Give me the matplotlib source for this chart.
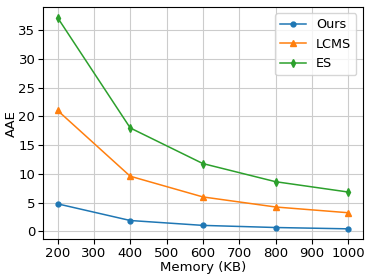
import matplotlib
matplotlib.use("Agg")
import matplotlib.pyplot as plt

memory = [200, 400, 600, 800, 1000]
ours = [4.8, 1.9, 1.05, 0.68, 0.45]
lcms = [21.05, 9.6, 6.0, 4.25, 3.25]
es = [37.2, 18.0, 11.8, 8.65, 6.85]
xticks = [200, 300, 400, 500, 600, 700, 800, 900, 1000]
yticks = [0, 5, 10, 15, 20, 25, 30, 35]

fs = 9.5
plt.rcParams['font.size'] = fs
fig, ax = plt.subplots(figsize=(3.74, 2.8), dpi=100)
ax.plot(memory, ours, marker='o', markersize=3.5, lw=1.1, label='Ours')
ax.plot(memory, lcms, marker='^', markersize=4, lw=1.1, label='LCMS')
ax.plot(memory, es, marker='d', markersize=4, lw=1.1, label='ES')
ax.set_xticks(xticks)
ax.set_yticks(yticks)
ax.set_xlabel('Memory (KB)', fontsize=fs, labelpad=1)
ax.set_ylabel('AAE', fontsize=fs, labelpad=0.5)
ax.tick_params(labelsize=fs, pad=2)
ax.grid(True, color='#cccccc', lw=0.8)
ax.legend(loc='upper right', fontsize=9.2)
fig.subplots_adjust(left=0.115, right=0.97, bottom=0.145, top=0.975)
fig.savefig('out.png', dpi=100)
